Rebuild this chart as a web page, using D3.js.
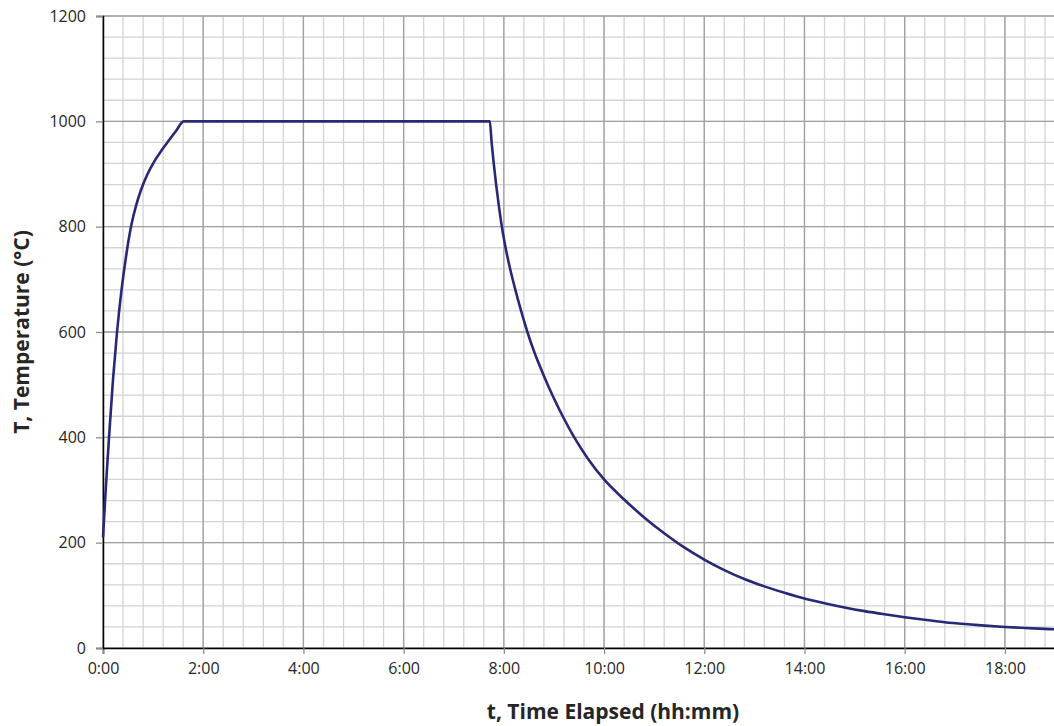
<!DOCTYPE html>
<html>
<head>
<meta charset="utf-8">
<script src="https://cdn.jsdelivr.net/npm/d3@7"></script>
<style>
  body { margin: 0; background: #fff; }
  text { font-family: "Open Sans", "Noto Sans", sans-serif; fill: #262626; }
</style>
</head>
<body>
<div id="chart"></div>
<script>
// elapsed time in hours, temperature in deg C
const heatTime = [0, 0.06, 0.12, 0.2, 0.28, 0.37, 0.47, 0.57, 0.66, 0.76, 0.88, 1.03, 1.17, 1.31, 1.46, 1.61];
const heatTemp = [210, 310, 400, 510, 600, 680, 750, 805, 840, 870, 898, 925, 945, 963, 982, 1000];

const holdTime = [2, 3, 4, 5, 6, 7];
const holdTemp = [1000, 1000, 1000, 1000, 1000, 1000];

const coolTime = [7.72, 7.756, 7.798, 7.846, 7.9, 7.96, 8.035, 8.125, 8.23, 8.345, 8.47, 8.615, 8.785,
  8.97, 9.175, 9.405, 9.675, 10.0, 10.4, 10.8, 11.2, 11.6, 12.0, 12.4, 12.8, 13.2, 13.6, 14.0,
  14.4, 14.8, 15.2, 15.6, 16.0, 16.4, 16.8, 17.2, 17.6, 18.0, 18.4, 18.8, 19.0];
const coolTemp = [1000, 960, 920, 880, 840, 800, 760, 720, 680, 640, 600, 560, 520,
  480, 440, 400, 360, 320, 282, 248, 218, 191, 168, 148, 131, 117, 105, 94,
  85, 77, 70, 64, 58.5, 53.5, 49, 45.5, 42.5, 40, 38, 36.3, 35.5];

const xTicks = [0, 2, 4, 6, 8, 10, 12, 14, 16, 18];
const yTicks = [0, 200, 400, 600, 800, 1000, 1200];

const W = 1054, H = 726;
const margin = {top: 16, right: -1, bottom: 78, left: 103};
const width = W - margin.left - margin.right,
      height = H - margin.top - margin.bottom;

const svg = d3.select("#chart")
  .append("svg")
    .attr("width", W)
    .attr("height", H)
  .append("g")
    .attr("transform", `translate(${margin.left}, ${margin.top})`);

const x = d3.scaleLinear().domain([0, 19]).range([0, width]);
const y = d3.scaleLinear().domain([0, 1200]).range([height, 0]);

// minor grid: 24 min and 40 deg
const xMinor = d3.range(0, 19.01, 0.4);
const yMinor = d3.range(0, 1201, 40);

svg.append("g")
  .selectAll("line")
  .data(xMinor)
  .join("line")
    .attr("x1", d => x(d)).attr("x2", d => x(d))
    .attr("y1", 0).attr("y2", height)
    .style("stroke", "#d3d3d3").style("stroke-width", 1.3);

svg.append("g")
  .selectAll("line")
  .data(yMinor)
  .join("line")
    .attr("x1", 0).attr("x2", width)
    .attr("y1", d => y(d)).attr("y2", d => y(d))
    .style("stroke", "#d3d3d3").style("stroke-width", 1.3);

// major grid
svg.append("g")
  .selectAll("line")
  .data(xTicks)
  .join("line")
    .attr("x1", d => x(d)).attr("x2", d => x(d))
    .attr("y1", 0).attr("y2", height)
    .style("stroke", "#a0a0a0").style("stroke-width", 1.3);

svg.append("g")
  .selectAll("line")
  .data(yTicks)
  .join("line")
    .attr("x1", 0).attr("x2", width)
    .attr("y1", d => y(d)).attr("y2", d => y(d))
    .style("stroke", "#a0a0a0").style("stroke-width", 1.3);

// axes
const xAxis = svg.append("g")
  .attr("transform", `translate(0, ${height})`)
  .call(d3.axisBottom(x).tickValues(xTicks).tickSize(6).tickPadding(9)
    .tickFormat(d => d + ":00"));

const yAxis = svg.append("g")
  .call(d3.axisLeft(y).tickValues(yTicks).tickSize(7).tickPadding(10)
    .tickFormat(d3.format("d")));

[xAxis, yAxis].forEach(function(ax){
  ax.select(".domain").style("stroke", "#000").style("stroke-width", 1.5);
  ax.selectAll(".tick line").style("stroke", "#8c8c8c").style("stroke-width", 1.3);
  ax.selectAll(".tick text").style("font-size", "16px").style("fill", "#262626")
    .style("font-family", '"Open Sans", sans-serif');
});

// temperature curve
const points = [];
heatTime.forEach((t, i) => points.push([t, heatTemp[i]]));
holdTime.forEach((t, i) => points.push([t, holdTemp[i]]));
coolTime.forEach((t, i) => points.push([t, coolTemp[i]]));

const line = d3.line()
  .x(d => x(d[0]))
  .y(d => y(d[1]))
  .curve(d3.curveMonotoneX);

svg.append("path")
  .datum(points)
  .attr("d", line)
  .style("fill", "none")
  .style("stroke", "#272876")
  .style("stroke-width", 2.6)
  .style("stroke-linejoin", "round");

// axis titles
svg.append("text")
  .attr("x", 510)
  .attr("y", height + 71)
  .attr("text-anchor", "middle")
  .style("font-size", "21px")
  .style("font-weight", "bold")
  .text("t, Time Elapsed (hh:mm)");

svg.append("text")
  .attr("transform", `translate(${-74}, ${316}) rotate(-90)`)
  .attr("text-anchor", "middle")
  .style("font-size", "21px")
  .style("font-weight", "bold")
  .text("T, Temperature (°C)");
</script>
</body>
</html>
